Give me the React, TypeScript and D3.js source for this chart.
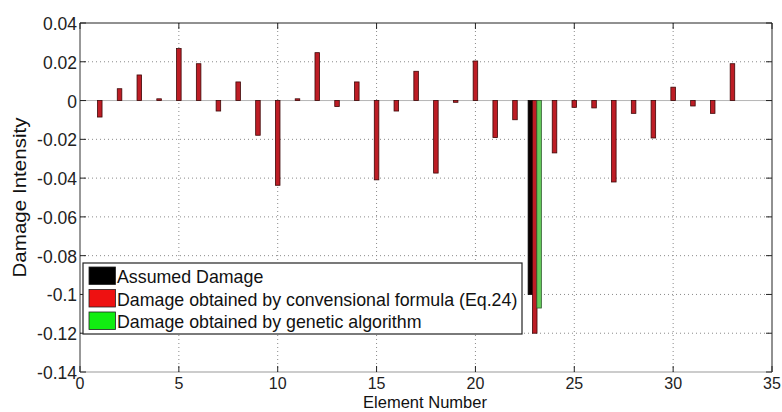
import React from "react";
import * as d3 from "d3";

const elements = d3.range(1, 34);
const conventional = [
  -0.0085, 0.0061, 0.0132, 0.0009, 0.0268, 0.019, -0.0054, 0.0096, -0.0179, -0.0437,
  0.0009, 0.0247, -0.0031, 0.0096, -0.0409, -0.0054, 0.0151, -0.0374, -0.0009, 0.0204,
  -0.0191, -0.0099, -0.12, -0.027, -0.0035, -0.0038, -0.042, -0.0066, -0.0193, 0.0069,
  -0.0028, -0.0066, 0.019,
];
const assumed = elements.map((e) => (e === 23 ? -0.1 : 0));
const genetic = elements.map((e) => (e === 23 ? -0.107 : 0));
const xTicks = [0, 5, 10, 15, 20, 25, 30, 35];
const yTicks = [0.04, 0.02, 0, -0.02, -0.04, -0.06, -0.08, -0.1, -0.12, -0.14];
const legendLabels = [
  "Assumed Damage",
  "Damage obtained by convensional formula (Eq.24)",
  "Damage obtained by genetic algorithm",
];

const W = 782;
const H = 412;
const FONT = "'Liberation Sans', Arial, sans-serif";

export default function App() {
  const x = d3.scaleLinear().domain([0, 35]).range([80, 772]);
  const y = d3.scaleLinear().domain([-0.14, 0.04]).range([372, 23]);
  const bw = 0.23;
  const series = [
    { vals: assumed, off: -0.22, fill: "#0a0000", stroke: "#000" },
    { vals: conventional, off: 0, fill: "#bd1d25", stroke: "#3d0808" },
    { vals: genetic, off: 0.22, fill: "#66cc5c", stroke: "#2f5a2f" },
  ];
  const legendFills = ["#000000", "#ee1111", "#11ee11"];
  const fmt = (v: number) => (Math.abs(v) < 1e-9 ? "0" : String(+v.toFixed(2)));
  const x0 = x(0), x1 = x(35), yTop = y(0.04), yBot = y(-0.14);
  return (
    <svg width={W} height={H} style={{ position: "absolute", left: 0, top: 0, background: "#fff" }}>
      {/* grid */}
      {xTicks.slice(1, -1).map((t) => (
        <line key={"gx" + t} x1={x(t)} x2={x(t)} y1={yTop} y2={yBot} stroke="#8a8a8a" strokeDasharray="1,3" />
      ))}
      {yTicks.slice(1, -1).filter((t) => t !== 0).map((t) => (
        <line key={"gy" + t} x1={x0} x2={x1} y1={y(t)} y2={y(t)} stroke="#8a8a8a" strokeDasharray="1,3" />
      ))}
      {/* baseline */}
      <line x1={x0} x2={x1} y1={y(0)} y2={y(0)} stroke="#b5b5b5" strokeWidth={1} />
      {/* bars */}
      {series.map((s, si) =>
        s.vals.map((v, i) => {
          if (v === 0) return null;
          const e = elements[i];
          const xl = x(e + s.off - bw / 2);
          const xr = x(e + s.off + bw / 2);
          const ya = y(Math.max(0, v));
          const yb = y(Math.min(0, v));
          return (
            <rect key={si + "-" + i} x={xl} y={ya} width={xr - xl} height={Math.max(1, yb - ya)}
              fill={s.fill} stroke={s.stroke} strokeWidth={0.8} />
          );
        })
      )}
      {/* box */}
      <line x1={x0} x2={x1} y1={yTop} y2={yTop} stroke="#222" />
      <line x1={x0} x2={x0} y1={yTop} y2={yBot} stroke="#333" />
      <line x1={x1} x2={x1} y1={yTop} y2={yBot} stroke="#222" />
      <line x1={x0} x2={x1} y1={yBot} y2={yBot} stroke="#999" />
      {/* ticks */}
      {xTicks.map((t) => (
        <g key={"tx" + t}>
          <line x1={x(t)} x2={x(t)} y1={yBot} y2={yBot - 6} stroke="#222" />
          <line x1={x(t)} x2={x(t)} y1={yTop} y2={yTop + 6} stroke="#222" />
          <text x={x(t)} y={yBot + 17} textAnchor="middle" fontFamily={FONT} fontSize={16} fill="#222">{t}</text>
        </g>
      ))}
      {yTicks.map((t) => (
        <g key={"ty" + t}>
          <line x1={x0} x2={x0 + 6} y1={y(t)} y2={y(t)} stroke="#222" />
          <line x1={x1} x2={x1 - 6} y1={y(t)} y2={y(t)} stroke="#222" />
          <text x={x0 - 3} y={y(t) + 7} textAnchor="end" fontFamily={FONT} fontSize={17.5} fill="#222">{fmt(t)}</text>
        </g>
      ))}
      {/* axis titles */}
      <text x={(x0 + x1) / 2 - 1} y={408} textAnchor="middle" fontFamily={FONT} fontSize={16.5}
        textLength={124} lengthAdjust="spacingAndGlyphs" fill="#111">Element Number</text>
      <text transform={`translate(26, ${(yTop + yBot) / 2}) rotate(-90)`} textAnchor="middle" fontFamily={FONT} fontSize={18.5}
        textLength={160} lengthAdjust="spacingAndGlyphs" fill="#111">Damage Intensity</text>
      {/* legend */}
      <rect x={83} y={263} width={439} height={71} fill="#fff" stroke="#222" strokeWidth={1.2} />
      {legendLabels.map((lab, i) => (
        <g key={"lg" + i}>
          <rect x={89} y={267 + i * 22.5} width={26.5} height={17.5} fill={legendFills[i]} stroke="#222" strokeWidth={0.8} />
          <text x={117} y={283 + i * 22.5} fontFamily={FONT} fontSize={17.8} fill="#111">{lab}</text>
        </g>
      ))}
    </svg>
  );
}
